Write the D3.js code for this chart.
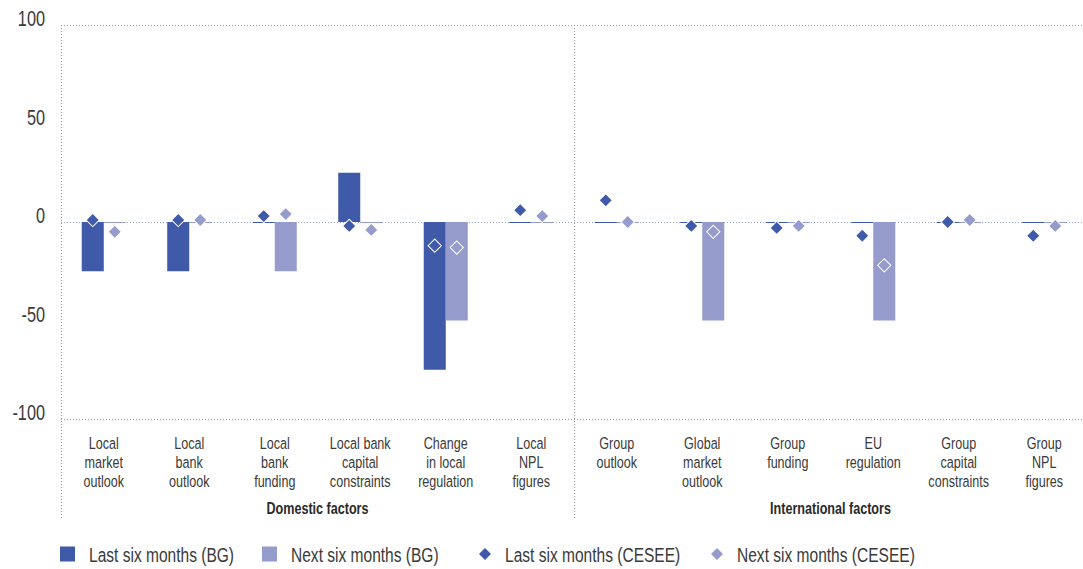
<!DOCTYPE html>
<html>
<head>
<meta charset="utf-8">
<script src="https://cdn.jsdelivr.net/npm/d3@7"></script>
<style>
  html, body { margin: 0; padding: 0; background: #fff; }
  svg { display: block; font-family: "Liberation Sans", Arial, sans-serif; }
</style>
</head>
<body>
<svg id="chart" width="1083" height="569"></svg>
<script>
// ---- data ----
const categories = [
  ["Local", "market", "outlook"],
  ["Local", "bank", "outlook"],
  ["Local", "bank", "funding"],
  ["Local bank", "capital", "constraints"],
  ["Change", "in local", "regulation"],
  ["Local", "NPL", "figures"],
  ["Group", "outlook"],
  ["Global", "market", "outlook"],
  ["Group", "funding"],
  ["EU", "regulation"],
  ["Group", "capital", "constraints"],
  ["Group", "NPL", "figures"]
];
const groups = ["Domestic factors", "International factors"];
const lastBG    = [-25, -25, 0, 25, -75, 0, 0, 0, 0, 0, 0, 0];
const nextBG    = [0, 0, -25, 0, -50, 0, 0, -50, 0, -50, 0, 0];
const lastCESEE = [1, 1, 3, -2, -12, 6, 11, -2, -3, -7, 0, -7];
const nextCESEE = [-5, 1, 4, -4, -13, 3, 0, -5, -2, -22, 1, -2];
const yTicks = [100, 50, 0, -50, -100];
const seriesNames = ["Last six months (BG)", "Next six months (BG)", "Last six months (CESEE)", "Next six months (CESEE)"];

const dark = "#3e5aa8", light = "#959bcb";
const textColor = "#3a3a3a";
const narrow = 0.74; // horizontal squeeze to mimic a condensed face
const svg = d3.select("#chart");

const idx = d3.range(categories.length);
const x = d3.scaleBand().domain(idx).range([61, 61 + 12 * 85.5]).paddingInner(0.485).paddingOuter(0.2425);
const x1 = d3.scaleBand().domain([0, 1]).range([0, x.bandwidth()]);
const y = d3.scaleLinear().domain([-100, 100]).range([419, 25]);
const cx = i => x(i) + x.bandwidth() / 2;

// gridlines
const gridColor = "#9a9a9a";
svg.append("g").selectAll("line").data([100, 0, -100]).join("line")
  .attr("x1", 61).attr("x2", 1083)
  .attr("y1", d => y(d) + 0.5).attr("y2", d => y(d) + 0.5)
  .attr("stroke", d => d === 0 ? "#9aa3c4" : gridColor).attr("stroke-width", 1)
  .attr("stroke-dasharray", "1,2");
const dividerX = x.step() * 6 + 61;
svg.append("g").selectAll("line").data([61, dividerX]).join("line")
  .attr("x1", d => d + 0.5).attr("x2", d => d + 0.5)
  .attr("y1", y(100)).attr("y2", 519)
  .attr("stroke", gridColor).attr("stroke-width", 1).attr("stroke-dasharray", "1,2");

// y axis labels
svg.append("g").selectAll("text").data(yTicks).join("text")
  .attr("transform", d => `translate(45,${y(d) + 1}) scale(${narrow},1)`)
  .attr("text-anchor", "end").attr("font-size", 22).attr("fill", textColor)
  .text(d => d < 0 ? "-" + Math.abs(d) : d);

// bars
function drawBars(vals, sub, color) {
  svg.append("g").selectAll("rect").data(idx).join("rect")
    .attr("x", i => x(i) + x1(sub))
    .attr("width", x1.bandwidth())
    .attr("y", i => Math.min(y(vals[i]), y(0)))
    .attr("height", i => Math.max(1, Math.abs(y(vals[i]) - y(0))))
    .attr("fill", color);
}
drawBars(lastBG, 0, dark);
drawBars(nextBG, 1, light);

// diamonds
const diamond = d3.symbol().type(d3.symbolSquare).size(88);
function drawDiamonds(vals, sub, color) {
  svg.append("g").selectAll("path").data(idx).join("path")
    .attr("d", diamond)
    .attr("transform", i => `translate(${x(i) + x1(sub) + x1.bandwidth() / 2},${y(vals[i])}) rotate(45)`)
    .attr("fill", color).attr("stroke", "#fff").attr("stroke-width", 1);
}
drawDiamonds(lastCESEE, 0, dark);
drawDiamonds(nextCESEE, 1, light);

// category labels
const catG = svg.append("g").selectAll("text").data(idx).join("text")
  .attr("text-anchor", "middle").attr("font-size", 17).attr("fill", textColor)
  .attr("transform", i => `translate(${cx(i)},449) scale(${narrow},1)`);
catG.selectAll("tspan").data(i => categories[i]).join("tspan")
  .attr("x", 0)
  .attr("dy", (d, k) => k === 0 ? 0 : 18.8)
  .text(d => d);

// group labels
const rightEdge = 61 + 12 * x.step();
svg.append("g").selectAll("text").data(groups).join("text")
  .attr("transform", (d, k) => `translate(${k === 0 ? (61 + dividerX) / 2 : (dividerX + rightEdge) / 2},514) scale(${narrow},1)`)
  .attr("text-anchor", "middle").attr("font-size", 17).attr("font-weight", "bold")
  .attr("fill", "#2a2a2a").text(d => d);

// legend
const legendX = [60, 262, 478, 710];
const leg = svg.append("g").selectAll("g").data(seriesNames).join("g")
  .attr("transform", (d, k) => `translate(${legendX[k]},554)`);
leg.each(function (d, k) {
  const g = d3.select(this);
  const c = k % 2 === 0 ? dark : light;
  if (k < 2) {
    g.append("rect").attr("x", 0).attr("y", -7.5).attr("width", 15).attr("height", 15).attr("fill", c);
  } else {
    g.append("path").attr("d", d3.symbol().type(d3.symbolSquare).size(72)).attr("transform", "translate(7,0) rotate(45)").attr("fill", c);
  }
  g.append("text").attr("transform", `translate(${k < 2 ? 29 : 27},7.5) scale(${narrow},1)`)
    .attr("font-size", 21).attr("fill", textColor).text(d);
});
</script>
</body>
</html>
